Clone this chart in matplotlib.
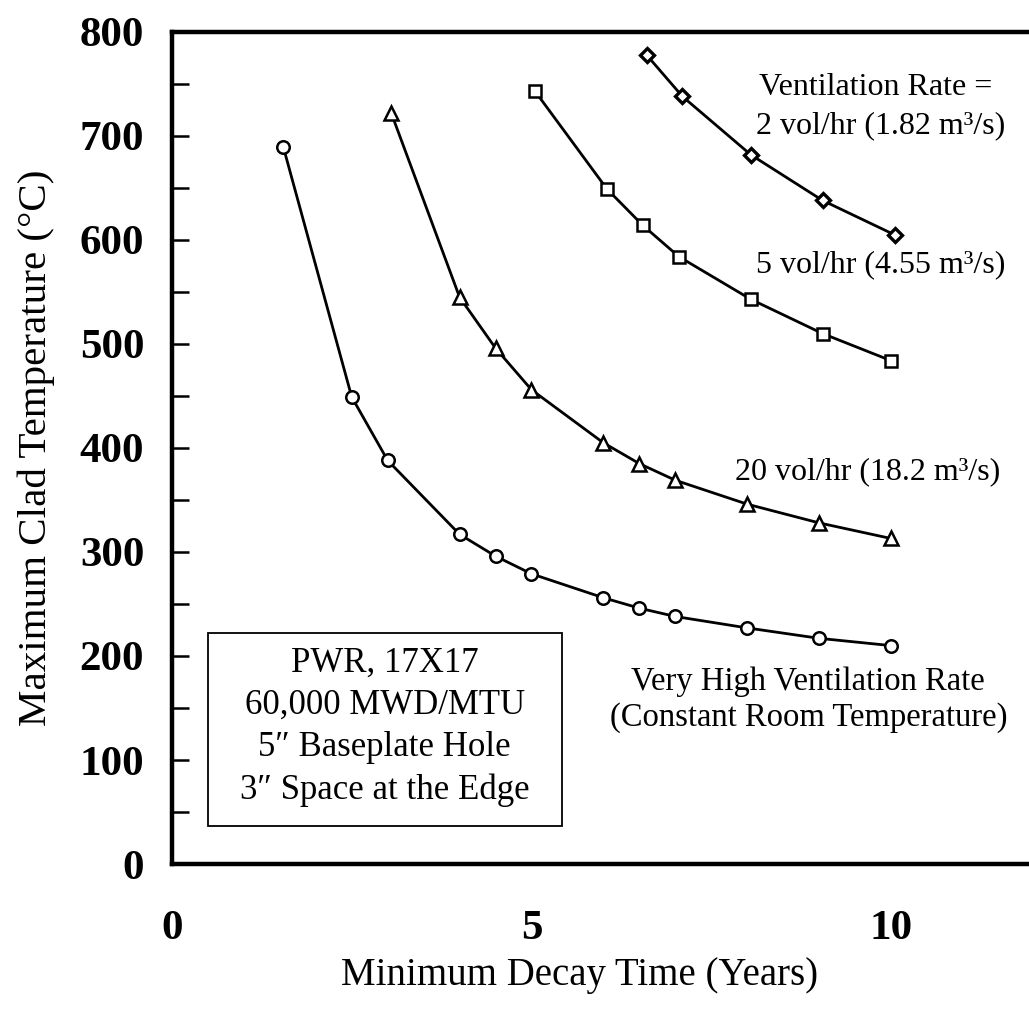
import matplotlib
matplotlib.use('Agg')
import matplotlib.pyplot as plt
from matplotlib.patches import Rectangle
from matplotlib.ticker import MultipleLocator

plt.rcParams['font.family'] = ['Liberation Serif', 'DejaVu Serif']

# decay time (years) and peak clad temperature (C) per ventilation rate
years_high = [1.55, 2.5, 3.0, 4.0, 4.5, 5.0, 6.0, 6.5, 7.0, 8.0, 9.0, 10.0]
temp_high = [689, 449, 388, 317, 296, 279, 256, 246, 238, 227, 217, 210]

years_20 = [3.05, 4.0, 4.5, 5.0, 6.0, 6.5, 7.0, 8.0, 9.0, 10.0]
temp_20 = [722, 545, 496, 456, 405, 385, 369, 346, 328, 313]

years_5 = [5.05, 6.05, 6.55, 7.05, 8.05, 9.05, 10.0]
temp_5 = [743, 649, 614, 584, 543, 510, 484]

years_2 = [6.6, 7.1, 8.05, 9.05, 10.05]
temp_2 = [778, 738, 682, 638, 605]

fig = plt.figure(figsize=(10.29, 10.13), dpi=100)
ax = fig.add_axes([172/1029, 1 - 864/1013, 1 - 172/1029, (864 - 32)/1013])

line_kw = dict(color='black', lw=2.0, mfc='white', mec='black', mew=1.8)
ax.plot(years_high, temp_high, marker='o', ms=9, **line_kw)
ax.plot(years_20, temp_20, marker='^', ms=10, **line_kw)
ax.plot(years_5, temp_5, marker='s', ms=9, **line_kw)
ax.plot(years_2, temp_2, marker='D', ms=7, color='black', lw=2.0, mfc='white', mec='black', mew=2.4)

ax.set_xlim(0, 11.92)
ax.set_ylim(0, 800)

ax.spines['right'].set_visible(False)
for s in ['left', 'top', 'bottom']:
    ax.spines[s].set_linewidth(3.2)

ax.xaxis.set_major_locator(MultipleLocator(5))
ax.yaxis.set_major_locator(MultipleLocator(100))
ax.yaxis.set_minor_locator(MultipleLocator(50))
ax.tick_params(axis='x', which='both', length=0, pad=33, labelsize=31)
ax.tick_params(axis='y', which='major', direction='in', length=12, width=1.8, pad=20, labelsize=31)
ax.tick_params(axis='y', which='minor', direction='in', length=12, width=1.8)
for lab in ax.get_xticklabels() + ax.get_yticklabels():
    lab.set_fontweight('bold')

ax.set_xlabel('Minimum Decay Time (Years)', fontsize=28)
ax.xaxis.set_label_coords(0.476, -0.112)
ax.set_ylabel('Maximum Clad Temperature (°C)', fontsize=29.5, labelpad=18)

txt = dict(fontsize=23, ha='center', va='center')
ax.text(9.79, 747, 'Ventilation Rate =', **txt)
ax.text(9.86, 710, '2 vol/hr (1.82 m³/s)', **txt)
ax.text(9.86, 576, '5 vol/hr (4.55 m³/s)', **txt)
ax.text(9.67, 377, '20 vol/hr (18.2 m³/s)', **txt)
ax.text(8.85, 175, 'Very High Ventilation Rate', fontsize=23.5, ha='center', va='center')
ax.text(8.85, 141, '(Constant Room Temperature)', fontsize=23.5, ha='center', va='center')

# info box
ax.add_patch(Rectangle((0.5, 36.5), 4.92, 185.5, fc='white', ec='black', lw=1.3, zorder=3))
ax.text(2.96, 132, 'PWR, 17X17\n60,000 MWD/MTU\n5″ Baseplate Hole\n3″ Space at the Edge',
        fontsize=25, ha='center', va='center', linespacing=1.37, zorder=4)

fig.savefig('out.png', dpi=100)
